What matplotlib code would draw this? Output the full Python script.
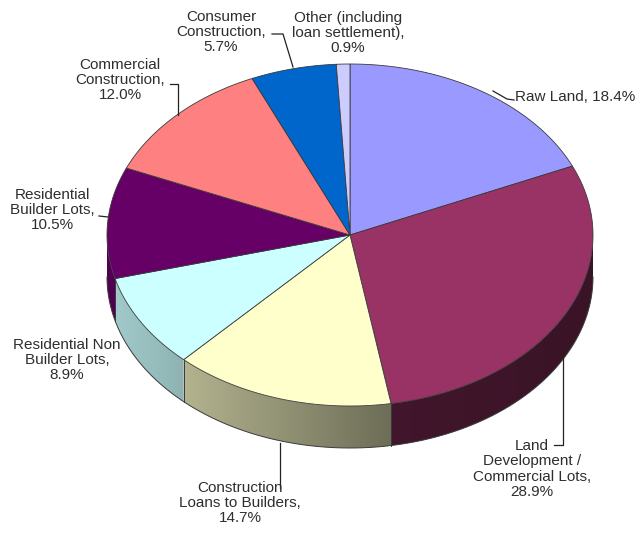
import numpy as np
import matplotlib.pyplot as plt
from matplotlib.colors import to_rgb
from matplotlib.patches import Polygon

# --- loan book composition, clockwise from 12 o'clock
labels = ['Raw Land',
          'Land\nDevelopment /\nCommercial Lots',
          'Construction\nLoans to Builders',
          'Residential Non\nBuilder Lots',
          'Residential\nBuilder Lots',
          'Commercial\nConstruction',
          'Consumer\nConstruction',
          'Other (including\nloan settlement)']
shares = [18.4, 28.9, 14.7, 8.9, 10.5, 12.0, 5.7, 0.9]
colors = ['#9999ff', '#993366', '#ffffcc', '#ccffff',
          '#660066', '#ff8080', '#0066cc', '#ccccff']

# --- pie geometry (pixels)
cx, cy = 350, 235
rx, ry = 243, 171
depth = 42

# --- label anchors and leader lines
label_xy = [(515, 97), (532, 469), (240, 503), (67, 360),
            (52, 210), (120, 80), (221, 32), (348, 33)]
leaders = [[(493, 91), (507, 99), (514, 100)],
           [(563, 358), (563, 445), (554, 445)],
           [(280, 443), (280, 488)],
           None,
           [(99, 216), (108, 217)],
           [(170, 84), (178, 84), (178, 115)],
           [(272, 34), (283, 34), (293, 67)],
           None]

text_col = '#2e2e2e'
edge_col = '#3a3a3a'


def xy(theta, dz=0.0):
    t = np.radians(theta)
    return cx + rx * np.sin(t), cy - ry * np.cos(t) + dz


def shade(s):
    # darker towards the right-hand side of the wall
    return np.interp(s, [-1, -0.68, 0.17, 1], [0.80, 0.70, 0.43, 0.38])


fig = plt.figure(figsize=(6.4, 5.33), dpi=100)
ax = fig.add_axes([0, 0, 1, 1])
ax.set_xlim(0, 640)
ax.set_ylim(533, 0)
ax.axis('off')

bounds = np.concatenate([[0], np.cumsum(shares)]) * 3.6

# --- side walls (only the front half is visible)
xs = np.linspace(cx - rx, cx + rx, 500)
grad = shade((xs - cx) / rx)
for i, c in enumerate(colors):
    a0, a1 = max(bounds[i], 90), min(bounds[i + 1], 270)
    if a1 <= a0:
        continue
    t = np.linspace(a0, a1, 200)
    tx, ty = xy(t)
    bx, by = xy(t[::-1], depth)
    wall = Polygon(list(zip(tx, ty)) + list(zip(bx, by)), closed=True,
                   facecolor='none', edgecolor='none')
    ax.add_patch(wall)
    base = np.array(to_rgb(c))
    img = np.clip(grad[None, :, None] * base[None, None, :], 0, 1)
    im = ax.imshow(img, extent=(xs[0], xs[-1], cy + ry + depth, cy),
                   aspect='auto', interpolation='bilinear', zorder=1)
    im.set_clip_path(wall)
    for a in (a0, a1):
        if 90 < a < 270:
            ax.plot(*zip(xy(a), xy(a, depth)), color=edge_col, lw=0.6, zorder=2)

arc = np.linspace(90, 270, 200)
ax.plot(*xy(arc, depth), color=edge_col, lw=0.7, zorder=2)

# --- top face
for i, c in enumerate(colors):
    t = np.linspace(bounds[i], bounds[i + 1], 100)
    px, py = xy(t)
    pts = [(cx, cy)] + list(zip(px, py))
    ax.add_patch(Polygon(pts, closed=True, facecolor=c,
                         edgecolor=edge_col, lw=0.6, zorder=3))

# --- labels
for i, (lab, v) in enumerate(zip(labels, shares)):
    if '\n' in lab:
        txt = f'{lab},\n{v:.1f}%'
        ax.text(*label_xy[i], txt, ha='center', va='center', fontsize=11,
                family='Liberation Sans', color=text_col, linespacing=1.1,
                zorder=5)
    else:
        txt = f'{lab}, {v:.1f}%'
        ax.text(*label_xy[i], txt, ha='left', va='center', fontsize=11,
                family='Liberation Sans', color=text_col, zorder=5)
    if leaders[i]:
        ax.plot(*zip(*leaders[i]), color='#222222', lw=0.9, zorder=4)

ax.set_xlim(0, 640)
ax.set_ylim(533, 0)
fig.savefig('out.png', dpi=100)
